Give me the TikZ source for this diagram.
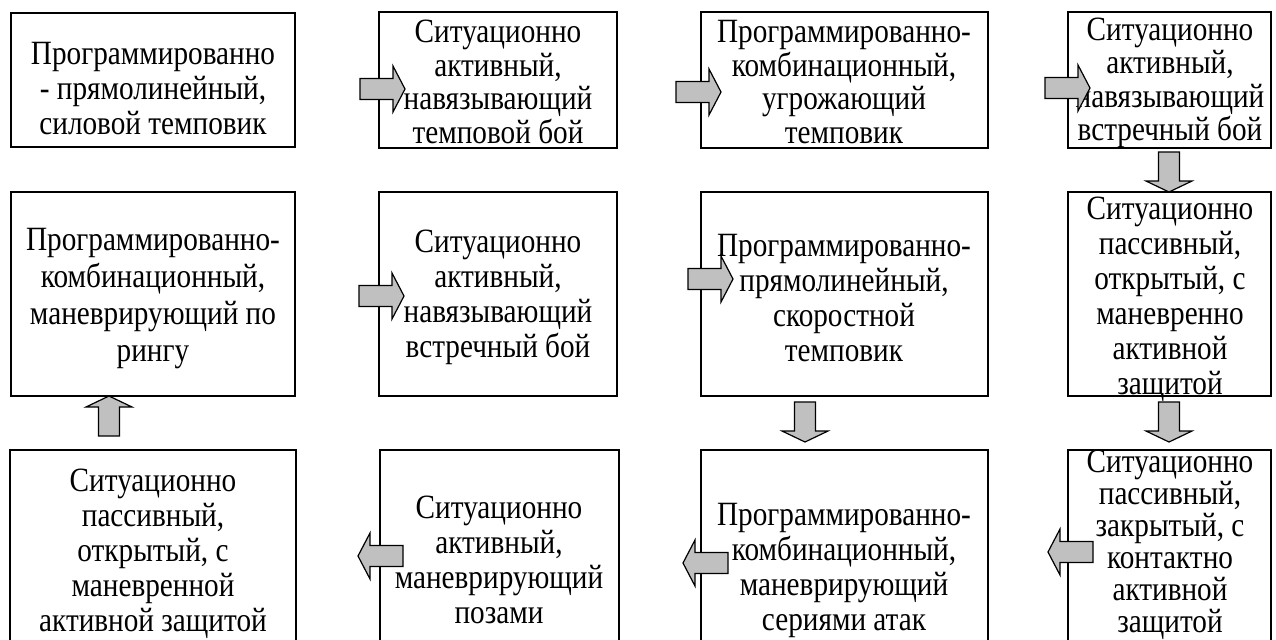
\documentclass[tikz,border=0pt]{standalone}
\usepackage{fontspec}
\setmainfont{Liberation Serif}[FakeStretch=0.86]
\usetikzlibrary{fit}
\definecolor{arrowgray}{RGB}{192,192,192}
\begin{document}
\begin{tikzpicture}[x=0.5pt,y=-0.5pt,
  box/.style={draw, line width=1.1pt, inner sep=0pt},
  txt/.style={align=center, font=\fontsize{17}{17.5}\selectfont, inner sep=0pt},
  txtwide/.style={txt, font=\fontsize{17}{18.5}\selectfont},
  txttight/.style={txt, font=\fontsize{17}{16.75}\selectfont},
  txtvtight/.style={txt, font=\fontsize{17}{16}\selectfont},
  barrow/.style={draw, line width=0.6pt, fill=arrowgray, line join=miter},
  pics/rarr/.style={code={\draw[barrow] (0,-10.5)--(33,-10.5)--(33,-23)--(45,0)--(33,23)--(33,10.5)--(0,10.5)--cycle;}},
  pics/larr/.style={code={\draw[barrow] (0,-10.5)--(-33,-10.5)--(-33,-23)--(-45,0)--(-33,23)--(-33,10.5)--(0,10.5)--cycle;}},
  pics/darr/.style={code={\draw[barrow] (-10.5,0)--(-10.5,29)--(-23,29)--(0,40)--(23,29)--(10.5,29)--(10.5,0)--cycle;}},
  pics/uarr/.style={code={\draw[barrow] (-10.5,0)--(-10.5,-29)--(-23,-29)--(0,-40)--(23,-29)--(10.5,-29)--(10.5,0)--cycle;}}]
\useasboundingbox (0,0) rectangle (1276,639);
\clip (0,0) rectangle (1276,639);
% boxes
\node[box, fit={(11,13) (295,147)}] (A) {};
\node[box, fit={(379,12) (617,148)}] (B) {};
\node[box, fit={(701,12) (988,148)}] (C) {};
\node[box, fit={(1068,12) (1271,148)}] (D) {};
\node[box, fit={(11,192) (295,396)}] (E) {};
\node[box, fit={(379,192) (617,396)}] (F) {};
\node[box, fit={(701,192) (988,396)}] (G) {};
\node[box, fit={(1068,192) (1271,396)}] (H) {};
\node[box, fit={(10,450) (296,670)}] (I) {};
\node[box, fit={(380,450) (619,670)}] (J) {};
\node[box, fit={(701,450) (988,700)}] (K) {};
\node[box, fit={(1068,450) (1271,670)}] (L) {};
% texts
\node[txt] (At) at (153,89) {Программированно\\- прямолинейный,\\силовой темповик};
\node[txttight] (Bt) at (498,82) {Ситуационно\\активный,\\навязывающий\\темповой бой};
\node[txttight] (Ct) at (844,82) {Программированно-\\комбинационный,\\угрожающий\\темповик};
\node[txttight] (Dt) at (1170,83) {Ситуационно\\активный,\\навязывающий\\встречный бой};
\node[txtwide] (Et) at (153,299) {Программированно-\\комбинационный,\\маневрирующий по\\рингу};
\node[txt] (Ft) at (498,297) {Ситуационно\\активный,\\навязывающий\\встречный бой};
\node[txt] (Gt) at (844,298) {Программированно-\\прямолинейный,\\скоростной\\темповик};
\node[txt] (Ht) at (1170,299) {Ситуационно\\пассивный,\\открытый, с\\маневренно\\активной\\защитой};
\node[txt] (It) at (153,554) {Ситуационно\\пассивный,\\открытый, с\\маневренной\\активной защитой};
\node[txt] (Jt) at (499,560) {Ситуационно\\активный,\\маневрирующий\\позами};
\node[txt] (Kt) at (844,570) {Программированно-\\комбинационный,\\маневрирующий\\сериями атак};
\node[txtvtight] (Lt) at (1170,545) {Ситуационно\\пассивный,\\закрытый, с\\контактно\\активной\\защитой};
% block arrows
\pic at (360,89) {rarr};
\pic at (676,92) {rarr};
\pic at (1045,88) {rarr};
\pic at (359,296) {rarr};
\pic at (688,279) {rarr};
\pic at (403,556) {larr};
\pic at (728,563) {larr};
\pic at (1093,552) {larr};
\pic at (1169,152) {darr};
\pic at (805,402) {darr};
\pic at (1169,402) {darr};
\pic at (109,436) {uarr};
\end{tikzpicture}
\end{document}
